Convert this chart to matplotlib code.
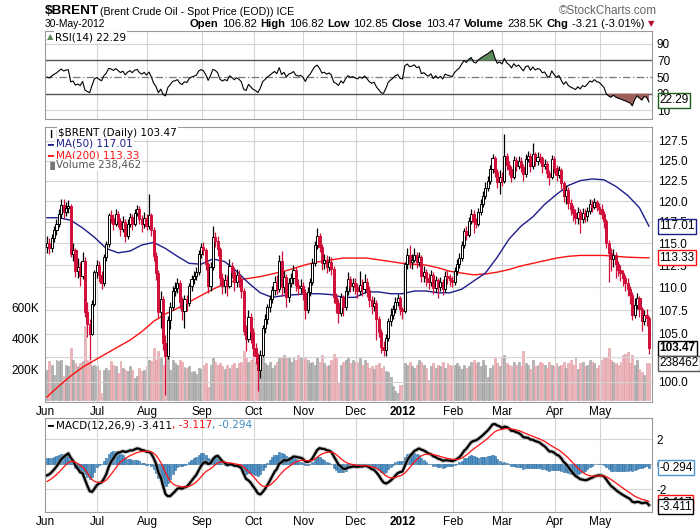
import numpy as np
import matplotlib
matplotlib.use("Agg")
import matplotlib.pyplot as plt
import matplotlib.transforms as mtransforms
from matplotlib.ticker import FixedLocator, FixedFormatter, NullLocator

plt.rcParams['font.family'] = ['Liberation Sans', 'DejaVu Sans']

# ---- data (daily, 1-Jun-2011 .. 30-May-2012) ----
month_labels = ['Jun', 'Jul', 'Aug', 'Sep', 'Oct', 'Nov', 'Dec', '2012', 'Feb', 'Mar', 'Apr', 'May']
month_days = [22, 21, 23, 22, 21, 22, 20, 21, 21, 22, 19, 21]

first_open = 114.6
closes = [
    115.0, 114.4, 115.6, 116.5, 117.2, 118.4, 119.5, 118.7, 119.2, 119.4, 113.8, 114.2, 111.8, 112.3, 111.3, 113.0, 107.3, 106.0, 105.0, 108.2, 111.7, 112.5,
    111.4, 110.5, 113.4, 114.9, 118.3, 118.0, 117.3, 118.5, 117.6, 116.7, 117.5, 115.9, 117.3, 118.1, 117.3, 118.6, 119.0, 117.8, 117.2, 118.0, 117.0,
    118.3, 116.5, 113.5, 111.6, 107.3, 108.7, 104.0, 102.6, 106.4, 107.8, 109.6, 109.9, 110.5, 108.4, 107.4, 108.7, 108.3, 110.1, 110.9, 111.3, 111.7, 113.8, 114.6,
    114.2, 112.6, 110.1, 112.3, 115.7, 115.3, 114.3, 111.1, 110.1, 110.8, 110.2, 112.4, 111.7, 110.6, 111.4, 110.8, 109.6, 105.3, 104.4, 106.8, 105.2, 103.5,
    102.7, 101.2, 102.8, 105.6, 106.6, 107.8, 108.7, 109.7, 110.6, 109.8, 113.0, 110.0, 111.2, 108.9, 110.5, 111.0, 111.9, 110.3, 109.9, 110.2, 109.4,
    107.5, 109.5, 110.6, 112.7, 114.8, 115.8, 114.6, 112.7, 113.1, 112.3, 112.9, 112.1, 108.9, 108.3, 107.2, 108.9, 107.8, 109.6, 110.9, 110.2, 110.5, 110.0,
    109.6, 110.3, 109.8, 110.6, 109.7, 108.6, 108.0, 108.3, 106.5, 105.2, 103.6, 103.3, 104.5, 106.3, 107.0, 107.6, 108.4, 108.8, 107.6, 107.4,
    112.6, 113.6, 112.8, 113.1, 113.7, 112.9, 113.4, 111.3, 111.7, 111.0, 110.6, 111.4, 109.9, 110.8, 110.0, 110.6, 109.8, 111.3, 111.0, 110.8, 110.6,
    111.8, 112.6, 113.3, 114.8, 116.4, 116.0, 117.6, 118.5, 117.5, 117.3, 118.7, 119.7, 120.6, 121.6, 122.4, 123.9, 125.3, 123.6, 122.3, 123.0, 122.5,
    125.6, 124.4, 123.9, 123.0, 125.1, 124.3, 125.0, 124.2, 123.3, 125.2, 125.6, 124.3, 125.8, 124.9, 125.5, 125.3, 124.3, 124.6, 123.4, 123.0, 125.2, 124.1,
    123.2, 123.8, 122.2, 120.6, 121.4, 119.8, 119.1, 118.6, 118.0, 118.7, 117.8, 118.6, 118.2, 118.8, 119.6, 119.3, 119.9, 119.3, 119.1,
    118.4, 117.6, 115.0, 113.9, 113.2, 113.6, 112.6, 112.0, 111.6, 111.0, 110.5, 109.8, 109.2, 107.0, 108.1, 108.8, 107.6, 106.3, 107.0, 106.68, 103.47,
]
highs = [
    115.8, 115.6, 116.1, 117.0, 117.9, 119.0, 120.3, 120.3, 119.9, 120.1, 119.6, 115.0, 114.5, 113.3, 112.8, 114.0, 113.4, 108.4, 106.5, 108.6, 112.0, 113.1,
    113.0, 111.8, 113.8, 115.3, 118.6, 118.9, 118.4, 119.0, 118.8, 118.0, 118.2, 117.8, 117.9, 118.6, 118.5, 119.1, 119.5, 119.4, 118.3, 118.7, 118.4,
    120.8, 118.6, 116.9, 114.0, 111.9, 109.6, 109.0, 104.8, 106.9, 108.4, 110.1, 110.6, 111.0, 110.8, 108.9, 109.2, 109.2, 110.5, 111.4, 111.8, 112.3, 114.2, 115.0,
    115.2, 114.5, 112.9, 112.8, 117.0, 116.3, 115.8, 114.6, 111.6, 111.5, 111.4, 113.2, 112.9, 112.3, 112.1, 111.9, 111.2, 109.9, 105.9, 107.5, 107.2, 105.6,
    104.0, 103.0, 103.3, 105.9, 107.1, 108.2, 109.2, 110.2, 111.3, 111.4, 113.6, 114.1, 111.8, 111.5, 111.1, 111.6, 112.5, 112.3, 110.9, 110.9, 110.6,
    109.8, 110.0, 111.1, 113.3, 115.3, 116.8, 116.2, 114.9, 113.8, 113.6, 113.5, 113.4, 112.4, 109.4, 108.7, 109.4, 109.2, 110.1, 111.7, 111.3, 111.1, 111.0,
    110.5, 111.8, 110.9, 111.5, 111.0, 110.1, 109.0, 108.9, 108.6, 106.9, 105.5, 104.2, 105.0, 106.7, 107.7, 108.1, 108.9, 109.3, 109.1, 107.9,
    112.9, 114.4, 114.8, 113.8, 114.5, 114.0, 114.0, 113.7, 112.4, 112.1, 111.6, 112.0, 111.7, 111.3, 111.1, 111.2, 110.9, 111.8, 111.9, 111.5, 111.3,
    112.3, 113.2, 113.9, 115.3, 116.8, 117.0, 118.1, 119.1, 118.9, 118.0, 119.2, 120.3, 121.2, 122.3, 123.1, 124.4, 125.8, 125.6, 124.0, 123.8, 123.6,
    128.4, 126.0, 124.9, 124.3, 125.6, 125.5, 125.6, 125.4, 124.6, 125.8, 126.2, 125.9, 127.2, 126.1, 126.1, 126.0, 125.6, 125.2, 124.9, 123.8, 125.7, 125.6,
    124.5, 124.3, 124.1, 122.5, 122.0, 121.7, 120.2, 119.5, 119.0, 119.3, 119.0, 119.2, 119.1, 119.3, 120.2, 120.1, 120.4, 120.1, 119.8,
    119.7, 118.8, 117.8, 115.4, 114.4, 114.3, 114.0, 113.0, 112.5, 112.0, 111.4, 111.0, 110.2, 109.5, 108.8, 109.4, 109.0, 107.8, 107.5, 107.6, 106.82,
]
lows = [
    113.9, 113.8, 114.0, 115.2, 116.0, 116.9, 118.0, 118.0, 118.2, 118.6, 113.4, 113.0, 111.2, 111.1, 110.2, 110.9, 106.8, 104.6, 102.2, 104.8, 108.0, 111.0,
    110.6, 109.8, 110.2, 113.0, 114.6, 117.4, 116.6, 117.0, 116.9, 115.9, 116.3, 115.2, 115.5, 116.9, 116.6, 117.0, 118.2, 117.3, 116.3, 116.8, 116.5,
    116.7, 115.9, 113.0, 110.8, 106.8, 105.6, 103.3, 98.7, 102.3, 105.5, 107.5, 109.0, 109.4, 107.6, 106.4, 105.6, 107.4, 108.0, 109.6, 110.4, 110.8, 111.4, 113.3,
    113.6, 111.9, 109.4, 109.6, 112.0, 114.6, 113.5, 110.3, 109.3, 109.4, 109.1, 109.9, 111.0, 109.6, 110.0, 110.0, 108.8, 104.8, 103.2, 104.1, 104.0, 102.6,
    101.8, 99.1, 100.4, 102.5, 105.1, 106.0, 107.3, 108.3, 109.2, 109.3, 109.5, 109.1, 109.4, 107.9, 108.4, 110.0, 110.4, 109.6, 109.2, 109.4, 108.6,
    106.6, 107.2, 109.0, 110.3, 112.4, 114.3, 114.0, 112.0, 112.1, 111.6, 111.8, 111.4, 108.3, 107.2, 106.1, 106.9, 106.9, 107.5, 109.2, 109.5, 109.6, 109.3,
    108.8, 109.2, 109.1, 109.4, 108.9, 107.9, 107.1, 107.4, 104.3, 104.6, 103.0, 102.7, 102.6, 104.2, 105.8, 106.6, 107.2, 108.0, 107.0, 106.5,
    107.2, 112.1, 112.2, 112.1, 112.8, 112.2, 112.4, 110.6, 110.6, 110.2, 109.8, 110.2, 109.3, 109.5, 108.8, 109.6, 109.2, 109.5, 110.4, 110.1, 110.0,
    110.3, 111.4, 112.2, 113.0, 114.5, 115.4, 115.7, 117.2, 116.2, 116.8, 117.0, 118.3, 119.3, 120.3, 121.2, 122.1, 123.5, 123.0, 121.6, 120.9, 121.8,
    122.2, 123.8, 123.2, 122.3, 122.7, 123.7, 123.9, 123.6, 122.4, 123.0, 124.8, 123.6, 124.0, 124.3, 124.5, 124.7, 123.4, 123.9, 122.8, 121.9, 122.7, 123.5,
    122.4, 122.8, 121.5, 119.9, 119.7, 119.1, 118.3, 117.6, 117.2, 117.2, 116.2, 117.4, 117.5, 117.6, 118.4, 118.7, 119.0, 118.8, 118.5,
    117.8, 116.8, 114.4, 110.6, 111.8, 112.3, 111.0, 111.3, 110.7, 110.2, 109.6, 109.1, 108.2, 106.4, 106.7, 107.6, 106.8, 105.3, 105.9, 105.8, 102.85,
]
volume_k = [
    197, 251, 230, 164, 262, 251, 262, 153, 230, 220, 339, 262, 240, 219, 240, 251, 480, 262, 251, 219, 230, 219,
    197, 44, 197, 208, 197, 251, 230, 219, 175, 251, 208, 197, 186, 219, 197, 142, 153, 208, 186, 197, 219,
    262, 251, 339, 262, 317, 273, 230, 330, 284, 197, 260, 240, 230, 262, 250, 215, 205, 220, 180, 190, 170, 210, 200,
    230, 240, 87, 230, 270, 250, 230, 240, 220, 200, 230, 210, 230, 240, 210, 240, 250, 320, 280, 250, 260, 270,
    250, 300, 260, 280, 240, 230, 250, 210, 230, 250, 270, 280, 290, 270, 280, 250, 270, 260, 290, 280, 260,
    270, 260, 240, 250, 230, 280, 250, 290, 240, 220, 230, 260, 300, 280, 120, 230, 250, 260, 280, 240, 260, 250,
    250, 270, 230, 260, 240, 210, 220, 200, 230, 240, 210, 220, 190, 180, 150, 90, 60, 45, 100, 95,
    240, 230, 250, 220, 210, 230, 260, 250, 230, 210, 130, 220, 240, 210, 230, 220, 250, 210, 240, 230, 220,
    230, 240, 220, 200, 230, 210, 220, 250, 260, 240, 250, 220, 260, 230, 150, 210, 230, 270, 240, 220, 280,
    290, 240, 230, 220, 250, 230, 250, 220, 320, 240, 230, 200, 260, 220, 230, 250, 240, 230, 210, 250, 230, 220,
    240, 220, 230, 250, 210, 240, 260, 230, 280, 200, 240, 250, 220, 230, 260, 250, 240, 210, 230,
    260, 270, 280, 340, 260, 250, 240, 230, 250, 290, 300, 310, 240, 290, 230, 260, 200, 180, 160, 240, 238.462,
]

# moving averages read every 5th session
ma_idx = list(range(0, 251, 5)) + [254]
ma50 = [118.0, 118.0, 117.7, 116.8, 115.7, 114.4, 113.9, 114.1, 114.8, 115.1,
        114.4, 113.5, 112.7, 112.6, 113.2, 112.9, 111.8, 110.5, 109.4, 108.9,
        109.1, 109.2, 109.3, 109.3, 109.2, 108.9, 108.9, 109.5, 109.5, 109.3,
        109.3, 109.6, 109.6, 109.4, 109.4, 109.8, 110.7, 111.6, 113.4, 115.5,
        117.0, 118.1, 119.6, 120.8, 121.9, 122.5, 122.7, 122.6, 121.8, 120.7,
        119.2, 117.01]
ma200 = [98.5, 99.6, 100.6, 101.5, 102.2, 102.9, 103.6, 104.3, 105.2, 106.3,
         107.1, 107.7, 108.4, 109.1, 109.8, 110.4, 110.8, 111.0, 111.2, 111.5,
         111.8, 112.2, 112.6, 112.9, 113.1, 113.3, 113.3, 113.3, 113.1, 112.9,
         112.7, 112.6, 112.5, 112.2, 111.8, 111.6, 111.4, 111.5, 111.7, 112.0,
         112.4, 112.7, 113.0, 113.3, 113.5, 113.6, 113.6, 113.6, 113.5, 113.4,
         113.35, 113.33]

# indicator state at the left edge
rsi_seed_gain, rsi_seed_loss = 0.9, 0.9
macd_seed_fast, macd_seed_slow, macd_seed_signal = 114.1, 115.0, -1.4

last_rsi, last_ma50, last_ma200, last_close, last_vol = 22.29, 117.01, 113.33, 103.47, 238.462
last_macd, last_signal, last_hist = -3.411, -3.117, -0.294

price_ticks = [100.0, 102.5, 105.0, 107.5, 110.0, 112.5, 115.0, 117.5, 120.0, 122.5, 125.0, 127.5]

# ---- derived series ----
c = np.array(closes)
o = np.r_[first_open, c[:-1]]
hi = np.maximum(np.array(highs), np.maximum(o, c))
lo = np.minimum(np.array(lows), np.minimum(o, c))
n = len(c)
x = np.arange(n)
up = c >= o

ag, al = rsi_seed_gain, rsi_seed_loss
rsi = [100 - 100 / (1 + ag / al)]
for i in range(1, n):
    d = c[i] - c[i - 1]
    ag = (ag * 13 + max(d, 0)) / 14
    al = (al * 13 + max(-d, 0)) / 14
    rsi.append(100 - 100 / (1 + ag / al))
rsi = np.array(rsi)

f, s, sig = macd_seed_fast, macd_seed_slow, macd_seed_signal
macd, signal = [], []
for i in range(n):
    if i > 0:
        f += 2 / 13 * (c[i] - f)
        s += 2 / 27 * (c[i] - s)
    m = f - s
    if i > 0:
        sig += 0.2 * (m - sig)
    macd.append(m)
    signal.append(sig)
macd = np.array(macd)
signal = np.array(signal)
hist = macd - signal

starts = np.r_[0, np.cumsum(month_days)[:-1]]
grid_x = starts - 0.8

W, H = 700, 530
RED = '#d0103a'
GRID = '#d4d4d4'
FRAME = '#9a9a9a'
LEG = 'DejaVu Sans'
NARROW = ['Liberation Sans Narrow', 'Liberation Sans', 'DejaVu Sans']

fig = plt.figure(figsize=(7, 5.3), dpi=100)
fig.patch.set_facecolor('white')
L, Wd = 45 / W, 607 / W
ax_rsi = fig.add_axes([L, 1 - 119 / H, Wd, 88 / H])
ax_px = fig.add_axes([L, 1 - 402 / H, Wd, 275 / H])
ax_macd = fig.add_axes([L, 1 - 512 / H, Wd, 94 / H])
ax_vol = ax_px.twinx()
ax_vol.set_zorder(0)
ax_px.set_zorder(1)
ax_px.patch.set_visible(False)

xlim = (-0.85, n + 0.3)


def frame(ax):
    ax.set_xlim(*xlim)
    for sp in ax.spines.values():
        sp.set_color(FRAME)
        sp.set_linewidth(0.8)
    ax.set_xticks(grid_x)
    ax.xaxis.set_minor_locator(NullLocator())
    ax.tick_params(axis='both', which='both', length=0)
    for gx in grid_x[1:]:
        ax.axvline(gx, color=GRID, lw=0.8, zorder=0)


def month_labels_on(ax):
    ax.set_xticklabels(month_labels, fontsize=8.5)
    ax.tick_params(axis='x', pad=3)
    for lbl in ax.get_xticklabels():
        if lbl.get_text() == '2012':
            lbl.set_fontweight('bold')


def value_box(ax, yval, text, ec, trans=None, bold=False, fc='white'):
    tr = trans or mtransforms.blended_transform_factory(ax.transAxes, ax.transData)
    ax.text(1.012, yval, text, transform=tr, fontsize=8.5, va='center', ha='left',
            fontweight='bold' if bold else 'normal', clip_on=False, zorder=10,
            bbox=dict(boxstyle='square,pad=0.12', fc=fc, ec=ec, lw=1.0))


# ---- RSI panel ----
frame(ax_rsi)
ax_rsi.set_ylim(-0.3, 105.1)
ax_rsi.set_xticklabels([])
ax_rsi.yaxis.tick_right()
ax_rsi.set_yticks([10, 30, 50, 70, 90])
ax_rsi.set_yticklabels(['10', '30', '50', '70', '90'], fontsize=8.5)
for yv in (10, 90):
    ax_rsi.axhline(yv, color=GRID, lw=0.8, zorder=0)
ax_rsi.axhline(70, color='#555555', lw=1.0, zorder=1)
ax_rsi.axhline(30, color='#555555', lw=1.0, zorder=1)
ax_rsi.axhline(50, color='#777777', lw=0.9, ls=(0, (6, 2, 1, 2)), zorder=1)
ax_rsi.fill_between(x, rsi, 70, where=rsi > 70, interpolate=True, color='#5c8a5c', lw=0, zorder=2)
ax_rsi.fill_between(x, rsi, 30, where=rsi < 30, interpolate=True, color='#9c5f5c', lw=0, zorder=2)
ax_rsi.plot(x, rsi, color='black', lw=0.8, zorder=3)
value_box(ax_rsi, last_rsi, f'{last_rsi:.2f}', '#1d5e1d')

# ---- price panel ----
frame(ax_px)
ax_vol.set_xlim(*xlim)
ax_px.set_yscale('log')
ax_px.set_ylim(98.0, 129.3)
ax_px.yaxis.set_major_locator(FixedLocator(price_ticks))
ax_px.yaxis.set_major_formatter(FixedFormatter([f'{t:.1f}' for t in price_ticks]))
ax_px.yaxis.set_minor_locator(NullLocator())
ax_px.yaxis.tick_right()
ax_px.tick_params(axis='y', labelsize=8.5, pad=4)
for t in price_ticks:
    ax_px.axhline(t, color=GRID, lw=0.8, zorder=0)
month_labels_on(ax_px)

vol_col = np.where(up, '#b4b4b4', '#eeb3b8')
vol_edge = np.where(up, '#9a9a9a', '#de9aa2')
ax_vol.bar(x, volume_k, width=0.8, color=vol_col, edgecolor=vol_edge, linewidth=0.4)
ax_vol.set_ylim(-13, 1773)
ax_vol.yaxis.tick_left()
ax_vol.set_yticks([200, 400, 600])
ax_vol.set_yticklabels(['200K', '400K', '600K'], fontsize=8.5)
ax_vol.tick_params(axis='y', length=0, pad=4)
for sp in ax_vol.spines.values():
    sp.set_visible(False)

ax_px.plot(ma_idx, ma200, color='#ff1010', lw=1.0, zorder=2)
ax_px.plot(ma_idx, ma50, color='#1c1c8a', lw=1.0, zorder=2)

candle_col = np.where(up, 'black', RED)
ax_px.vlines(x, lo, hi, colors=candle_col, lw=0.9, zorder=3)
ax_px.bar(x, np.abs(c - o), bottom=np.minimum(o, c), width=0.9,
          color=np.where(up, 'white', RED), edgecolor=candle_col, linewidth=0.7, zorder=4)

value_box(ax_px, last_ma50, f'{last_ma50:.2f}', '#1c1c8a')
value_box(ax_px, last_ma200, f'{last_ma200:.2f}', '#ff1010')
value_box(ax_px, last_close, f'{last_close:.2f}', 'black', bold=True)
vol_tr = mtransforms.blended_transform_factory(ax_px.transAxes, ax_vol.transData)
value_box(ax_px, last_vol, f'{last_vol * 1000:.0f}', '#555555', trans=vol_tr)

# ---- MACD panel ----
frame(ax_macd)
ax_macd.set_ylim(-3.85, 3.72)
ax_macd.yaxis.tick_right()
ax_macd.set_yticks([-2, 0, 2])
ax_macd.set_yticklabels(['-2', '0', '2'], fontsize=8.5)
for yv in (-2, 0, 2):
    ax_macd.axhline(yv, color=GRID, lw=0.8, zorder=0)
month_labels_on(ax_macd)
ax_macd.bar(x, hist, width=0.9, color='#4f93c9', edgecolor='#2e6d9e', linewidth=0.4, zorder=2)
ax_macd.plot(x, macd, color='#9a9a9a', lw=3.0, alpha=0.6, zorder=3)
ax_macd.plot(x, macd, color='black', lw=1.6, zorder=4)
ax_macd.plot(x, signal, color='#ff1010', lw=0.9, zorder=5)
value_box(ax_macd, last_hist, f'{last_hist:.3f}', '#4f93c9')
value_box(ax_macd, last_signal, f'{last_signal:.3f}', '#ff1010')
value_box(ax_macd, last_macd, f'{last_macd:.3f}', 'black')

# ---- header and legends ----
renderer = fig.canvas.get_renderer()


def run(x_px, y_px, parts, gap=3.5):
    xp = x_px
    for txt, kw in parts:
        t = fig.text(xp / W, 1 - y_px / H, txt, va='center', ha='left', **kw)
        xp += t.get_window_extent(renderer=renderer).width + gap
    return xp


def run_fit(x_px, x_end, y_px, parts, gap=3.5):
    # lay the run out once, then shrink the font so it ends where the reference does
    tmp = []
    xp = x_px
    for txt, kw in parts:
        t = fig.text(0, 0, txt, **kw)
        xp += t.get_window_extent(renderer=renderer).width + gap
        tmp.append(t)
    for t in tmp:
        t.remove()
    k = (x_end - x_px) / (xp - x_px)
    scaled = [(txt, dict(kw, fontsize=kw['fontsize'] * k)) for txt, kw in parts]
    return run(x_px, y_px, scaled, gap)


run_fit(45, 99, 11, [('$BRENT', dict(fontsize=14, fontweight='bold', family=NARROW))], gap=0)
run_fit(100, 293, 12, [('(Brent Crude Oil - Spot Price (EOD)) ICE', dict(fontsize=10, family=NARROW))], gap=0)
fig.text(657 / W, 1 - 11 / H, '\u00a9StockCharts.com', ha='right', va='center',
         fontsize=8.5, color='#666666', family=NARROW)
run_fit(45, 106, 24, [('30-May-2012', dict(fontsize=9.5, family=NARROW))], gap=0)
bold = dict(fontsize=9.5, fontweight='bold', family=NARROW)
norm = dict(fontsize=9.5, family=NARROW)
xe = run_fit(190, 640, 24, [('Open', bold), ('106.82', norm), ('High', bold), ('106.82', norm),
                            ('Low', bold), ('102.85', norm), ('Close', bold), ('103.47', norm),
                            ('Volume', bold), ('238.5K', norm), ('Chg', bold), ('-3.21 (-3.01%)', norm)])
fig.text(xe / W, 1 - 24 / H, '\u25bc', color='#b0102c', fontsize=6, va='center', ha='left',
         family='DejaVu Sans')

leg_bg = dict(boxstyle='square,pad=0.1', fc='white', ec='none')
fig.text(47 / W, 1 - 37 / H, '\u25b2', fontsize=6, color='#5c8a5c', va='center', family=LEG)
fig.text(55 / W, 1 - 37 / H, 'RSI(14) 22.29', fontsize=7.5, va='center', family=LEG, bbox=leg_bg)

fig.text(47 / W, 1 - 133 / H, '\u2759\u2759', fontsize=6, va='center', family=LEG)
fig.text(58 / W, 1 - 133 / H, '$BRENT (Daily) 103.47', fontsize=7.5, va='center', family=LEG, bbox=leg_bg)
fig.text(47 / W, 1 - 144 / H, '\u2501', fontsize=7, color='#1c1c8a', va='center', family=LEG)
fig.text(56 / W, 1 - 144 / H, 'MA(50) 117.01', fontsize=7.5, color='#1c1c8a', va='center', family=LEG, bbox=leg_bg)
fig.text(47 / W, 1 - 155 / H, '\u2501', fontsize=7, color='#ff1010', va='center', family=LEG)
fig.text(56 / W, 1 - 155 / H, 'MA(200) 113.33', fontsize=7.5, color='#ff1010', va='center', family=LEG, bbox=leg_bg)
fig.text(47 / W, 1 - 165 / H, '\u2590\u258c', fontsize=6, color='#777777', va='center', family=LEG)
fig.text(56 / W, 1 - 165 / H, 'Volume 238,462', fontsize=7.5, color='#555555', va='center', family=LEG, bbox=leg_bg)

fig.text(47 / W, 1 - 425 / H, '\u2501', fontsize=7, color='black', va='center', family=LEG)
run(56, 425, [('MACD(12,26,9) -3.411', dict(fontsize=7.5, family=LEG)),
              (', -3.117', dict(fontsize=7.5, family=LEG, color='#ff1010')),
              (', -0.294', dict(fontsize=7.5, family=LEG, color='#3a8cc4'))], gap=0)

fig.savefig('out.png', dpi=100, facecolor='white')
